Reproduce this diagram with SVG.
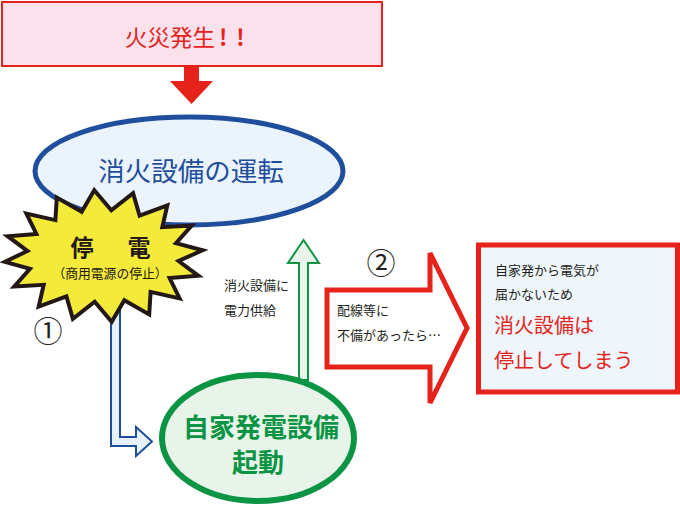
<svg xmlns="http://www.w3.org/2000/svg" width="680" height="508" viewBox="0 0 680 508">
<style>
text{font-family:"Noto Sans CJK JP","Noto Sans",sans-serif}
.small{font-size:13px;fill:#231f20}
.num{font-size:29px;fill:#231f20}
</style>
<rect width="680" height="508" fill="#ffffff"/>
<g id="connectors">
  <path id="arrow-fire" d="M184,67 L199,67 L199,81 L213,81 L191.5,104 L170,81 L184,81 Z" fill="#e5231b"/>
  <path id="arrow-blue" d="M111,305 L120,305 L120,437 L136,437 L136,427 L152,441.5 L136,456 L136,446 L111,446 Z" fill="#e6f1fb" stroke="#1f4e9c" stroke-width="2" stroke-linejoin="miter"/>
  <path id="arrow-green" d="M299,380 L299,263 L288,263 L303.5,240 L319,263 L308,263 L308,380 Z" fill="#e8f4ea" stroke="#0b9444" stroke-width="2"/>
  <path id="arrow-red" d="M327,290 L430,290 L430,253 L467,328 L430,403 L430,367 L327,367 Z" fill="#ffffff" stroke="#e5231b" stroke-width="5" stroke-linejoin="miter"/>
</g>
<g id="fire">
  <rect x="2" y="2" width="380" height="64" fill="#fbe1ec" stroke="#e5231b" stroke-width="2"/>
  <text x="125" y="46" font-size="22.5" fill="#e5231b">火災発生<tspan dx="4" font-weight="bold">!</tspan><tspan dx="9" font-weight="bold">!</tspan></text>
</g>
<g id="operation">
  <ellipse cx="189" cy="171" rx="154" ry="54" fill="#ebf4fc" stroke="#1f4e9c" stroke-width="5"/>
  <text x="191" y="181" font-size="26.5" fill="#1f4e9c" text-anchor="middle">消火設備の運転</text>
</g>
<g id="blackout">
  <polygon points="94.3,190.3 111.3,210.3 133.1,193.1 139.6,215.7 167.3,205.4 162.3,227.2 191.7,225.5 176,243.1 202.6,250.2 178.6,261 198.4,275.8 169.6,278.1 179.6,298.4 150.6,291.9 149.2,314.5 124.3,300.2 111.7,321.7 94.7,301.7 72.9,318.9 66.4,296.3 38.7,306.6 43.7,284.8 14.3,286.5 30,268.9 5,261.8 27.4,251 7.6,236.2 36.4,233.9 26.4,213.6 55.4,220.1 56.8,197.5 81.7,211.8" fill="#f4ea3a" stroke="#231815" stroke-width="4" stroke-linejoin="miter"/>
  <text y="256" font-size="23" font-weight="bold" fill="#231815" text-anchor="middle"><tspan x="82">停</tspan><tspan x="139">電</tspan></text>
  <text x="110" y="278" font-size="12.8" fill="#231815" text-anchor="middle">（商用電源の停止）</text>
</g>
<g id="label1">
  <text x="48" y="342" class="num" text-anchor="middle">①</text>
</g>
<g id="label-supply">
  <text x="224" y="290" class="small">消火設備に</text>
  <text x="224" y="315" class="small">電力供給</text>
</g>
<g id="generator">
  <ellipse cx="258" cy="438" rx="96" ry="63" fill="#e8f4ea" stroke="#0b9444" stroke-width="6"/>
  <text x="261" y="437" font-size="26" font-weight="bold" fill="#0b9444" text-anchor="middle">自家発電設備</text>
  <text x="258" y="472" font-size="26" font-weight="bold" fill="#0b9444" text-anchor="middle">起動</text>
</g>
<g id="label2">
  <text x="381" y="274" class="num" text-anchor="middle">②</text>
</g>
<g id="label-fault">
  <text x="337" y="315" class="small">配線等に</text>
  <text x="337" y="340" class="small">不備があったら…</text>
</g>
<g id="result">
  <rect x="478.5" y="245" width="199" height="147" fill="#eef6fc" stroke="#e5231b" stroke-width="5"/>
  <text x="495" y="275" class="small">自家発から電気が</text>
  <text x="495" y="299" class="small">届かないため</text>
  <text x="494" y="333" font-size="20" fill="#e5231b">消火設備は</text>
  <text x="494" y="368" font-size="20" fill="#e5231b">停止してしまう</text>
</g>
</svg>
